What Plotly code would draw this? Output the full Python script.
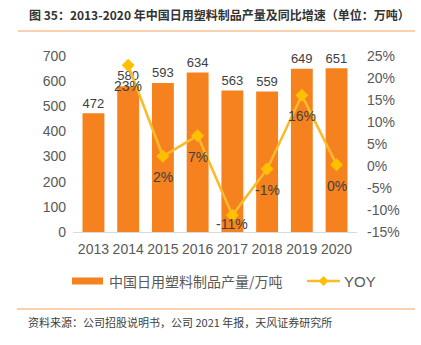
import plotly.graph_objects as go

years = ["2013", "2014", "2015", "2016", "2017", "2018", "2019", "2020"]
output = [472, 580, 593, 634, 563, 559, 649, 651]
yoy = [None, 22.9, 2.2, 6.9, -11.2, -0.7, 16.1, 0.3]
yoy_labels = ["", "23%", "2%", "7%", "-11%", "-1%", "16%", "0%"]
left_ticks = [0, 100, 200, 300, 400, 500, 600, 700]
right_ticks = [-15, -10, -5, 0, 5, 10, 15, 20, 25]

FONT = "Liberation Sans, Arial, Noto Sans CJK SC"
CJK = "Noto Sans CJK SC, Liberation Sans"
BAR = "#F5821F"
GOLD = "#FBBA2A"
MARK = "#FFC000"

fig = go.Figure()
fig.add_trace(go.Bar(
    x=years, y=output, width=0.63, marker_color=BAR,
    marker_line_width=0,
    text=[str(v) for v in output], textposition="outside",
    textfont=dict(size=14, color="#404040", family=FONT),
    cliponaxis=False, showlegend=False, yaxis="y",
))
fig.add_trace(go.Scatter(
    x=years, y=yoy, yaxis="y2", mode="lines+markers",
    line=dict(color=GOLD, width=2.5),
    marker=dict(symbol="diamond", size=10, color=MARK),
    cliponaxis=False, showlegend=False,
))
# YOY data labels below the markers (lowest one kept inside the plot)
for i, (v, lab) in enumerate(zip(yoy, yoy_labels)):
    if v is None:
        continue
    shift = -9 if v < -10 else -21
    fig.add_annotation(x=i, y=v, xref="x", yref="y2", text=lab,
                       showarrow=False, yshift=shift, yanchor="middle",
                       font=dict(size=14, color="#404040", family=FONT))

fig.update_layout(
    width=421, height=345,
    margin=dict(l=73, r=64, t=56, b=113),
    paper_bgcolor="white", plot_bgcolor="white",
    font=dict(family=FONT, color="#595959", size=14),
    bargap=0.37,
    xaxis=dict(type="category", showline=True, linecolor="#D9D9D9", linewidth=1,
               ticks="", ticklabelstandoff=4,
               tickfont=dict(size=14, color="#595959")),
    yaxis=dict(range=[0, 700], tickmode="array", tickvals=left_ticks,
               ticktext=[str(v) for v in left_ticks], showgrid=False,
               zeroline=False, ticklabelstandoff=6,
               tickfont=dict(size=14, color="#595959"), ticks=""),
    yaxis2=dict(range=[-15, 25], tickmode="array", tickvals=right_ticks,
                ticktext=[f"{v}%" for v in right_ticks],
                overlaying="y", side="right", showgrid=False, zeroline=False,
                ticklabelstandoff=9,
                tickfont=dict(size=14, color="#595959"), ticks=""),
    showlegend=False,
)

# title
fig.add_annotation(xref="paper", yref="paper", x=(27-73)/284, y=(232-14)/176,
                   xanchor="left", yanchor="middle", showarrow=False,
                   text="<b>图 35：2013-2020 年中国日用塑料制品产量及同比增速（单位：万吨）</b>",
                   font=dict(family=CJK, size=12, color="#333333"))
fig.add_shape(type="line", xref="paper", yref="paper",
              x0=(18-73)/284, x1=(415-73)/284, y0=(232-31)/176, y1=(232-31)/176,
              line=dict(color="#F7A35C", width=1.2))
# legend
ly = (232-281)/176
fig.add_shape(type="rect", xref="paper", yref="paper",
              x0=(72-73)/284, x1=(103-73)/284, y0=ly-3.5/176, y1=ly+3.5/176,
              fillcolor=BAR, line_width=0)
fig.add_annotation(xref="paper", yref="paper", x=(107-73)/284, y=ly,
                   xanchor="left", yanchor="middle", showarrow=False,
                   text="中国日用塑料制品产量/万吨",
                   font=dict(family=CJK, size=14, color="#595959"))
fig.add_shape(type="line", xref="paper", yref="paper",
              x0=(307-73)/284, x1=(340-73)/284, y0=ly, y1=ly,
              line=dict(color=GOLD, width=2.5))
fig.add_shape(type="path", xref="paper", yref="paper",
              path="M {a},{b} L {c},{d} L {a},{e} L {f},{d} Z".format(
                  a=(323.5-73)/284, b=ly+5/176, c=(328.5-73)/284, d=ly,
                  e=ly-5/176, f=(318.5-73)/284),
              fillcolor=MARK, line_width=0)
fig.add_annotation(xref="paper", yref="paper", x=(342-73)/284, y=ly,
                   xanchor="left", yanchor="middle", showarrow=False,
                   text="YOY", font=dict(family=FONT, size=15, color="#595959"))
# footer
fig.add_shape(type="line", xref="paper", yref="paper",
              x0=(17-73)/284, x1=(415-73)/284, y0=(232-309)/176, y1=(232-309)/176,
              line=dict(color="#F7A35C", width=1.2))
fig.add_annotation(xref="paper", yref="paper", x=(26-73)/284, y=(232-322)/176,
                   xanchor="left", yanchor="middle", showarrow=False,
                   text="资料来源：公司招股说明书，公司 2021 年报，天风证券研究所",
                   font=dict(family=CJK, size=11, color="#404040"))

fig.write_html("out.html")
